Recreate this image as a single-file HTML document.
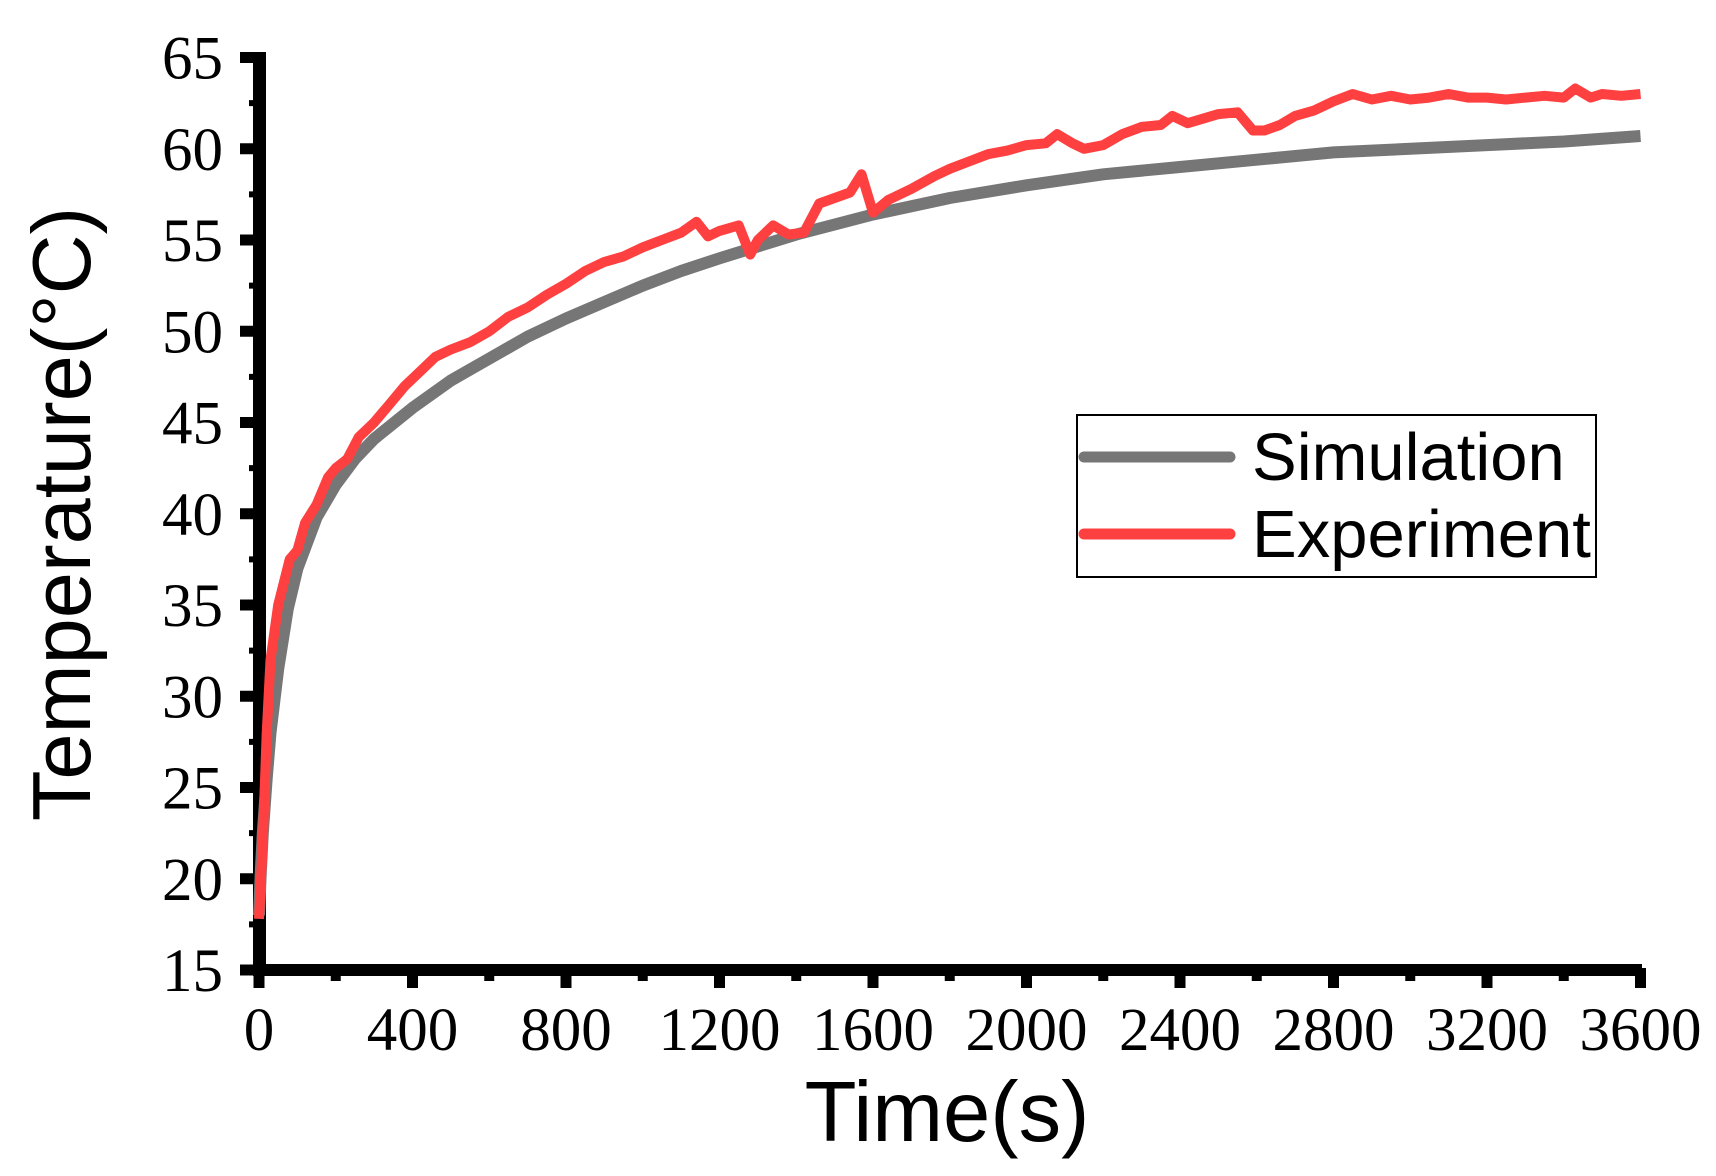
<!DOCTYPE html>
<html><head><meta charset="utf-8"><style>
html,body{margin:0;padding:0;background:#fff;}
svg{display:block;}
</style></head><body>
<svg id="chart" width="1716" height="1176" viewBox="0 0 1716 1176" xmlns="http://www.w3.org/2000/svg">
<g id="axes"></g>
<g id="series"></g>
<text x="947" y="1141" font-family="Liberation Sans, sans-serif" font-size="85" text-anchor="middle">Time(s)</text>
<text transform="translate(90,514) rotate(-90)" font-family="Liberation Sans, sans-serif" font-size="83" text-anchor="middle">Temperature(°C)</text>
<g>
<rect x="1077" y="415" width="519" height="162" fill="#fff" stroke="#000" stroke-width="2"/>
<line x1="1084" y1="457" x2="1230" y2="457" stroke="#767676" stroke-width="11" stroke-linecap="round"/>
<text x="1252" y="480" font-family="Liberation Sans, sans-serif" font-size="67">Simulation</text>
<line x1="1084" y1="534" x2="1230" y2="534" stroke="#ff4040" stroke-width="11" stroke-linecap="round"/>
<text x="1252" y="557" font-family="Liberation Sans, sans-serif" font-size="67">Experiment</text>
</g>
</svg>
<script>
const xTicks = [0,400,800,1200,1600,2000,2400,2800,3200,3600];
const yTicks = [15,20,25,30,35,40,45,50,55,60,65];
const simTime = [0,5,10,20,30,50,75,100,150,200,250,300,400,500,600,700,800,900,1000,1100,1200,1400,1600,1800,2000,2200,2400,2600,2800,3000,3200,3400,3600];
const simTemp = [18,20.5,22.5,25.5,28,31.5,34.8,37,39.8,41.6,43,44.1,45.8,47.3,48.5,49.7,50.7,51.6,52.5,53.3,54,55.3,56.4,57.3,58,58.6,59,59.4,59.8,60,60.2,60.4,60.7];
const expTime = [0,10,20,30,50,80,100,120,150,180,200,230,260,300,340,380,420,460,500,550,600,650,700,750,800,850,900,950,1000,1050,1100,1140,1170,1200,1250,1280,1300,1340,1380,1420,1460,1500,1540,1570,1600,1640,1700,1760,1800,1850,1900,1950,2000,2050,2080,2120,2150,2200,2250,2300,2350,2380,2420,2500,2550,2590,2620,2660,2700,2750,2800,2850,2900,2950,3000,3050,3100,3150,3200,3250,3300,3350,3400,3430,3470,3500,3550,3600];
const expTemp = [17.8,22,28,32,35,37.5,38,39.5,40.5,42,42.5,43,44.2,45,46,47,47.8,48.6,49,49.4,50,50.8,51.3,52,52.6,53.3,53.8,54.1,54.6,55,55.4,56,55.2,55.5,55.8,54.2,55,55.8,55.3,55.4,57,57.3,57.6,58.6,56.5,57.2,57.8,58.5,58.9,59.3,59.7,59.9,60.2,60.3,60.8,60.3,60,60.2,60.8,61.2,61.3,61.8,61.4,61.9,62,61,61,61.3,61.8,62.1,62.6,63,62.7,62.9,62.7,62.8,63,62.8,62.8,62.7,62.8,62.9,62.8,63.3,62.8,63,62.9,63];

const X0=259, X1=1640.5, Y0=970, Y1=57.5;
function xs(t){return X0 + t*(X1-X0)/3600;}
function ys(v){return Y0 - (v-15)*(Y0-Y1)/50;}
const NS='http://www.w3.org/2000/svg';
const axes=document.getElementById('axes');
const series=document.getElementById('series');
function mk(tag,attrs,parent){const e=document.createElementNS(NS,tag);for(const k in attrs)e.setAttribute(k,attrs[k]);parent.appendChild(e);return e;}

for(let v=17.5; v<65; v+=5){
  const m=mk('line',{x1:249,x2:260,y1:ys(v),y2:ys(v),stroke:'#000','stroke-width':6},axes);
  
  
}
for(let t=200; t<3600; t+=400){
  const m=mk('line',{x1:xs(t),x2:xs(t),y1:968,y2:981,stroke:'#000','stroke-width':10},axes);
  
  
}
yTicks.forEach(v=>{
  const l=mk('line',{x1:240,x2:260,y1:ys(v),y2:ys(v),stroke:'#000','stroke-width':11},axes);
  
  
  const tx=mk('text',{x:223,y:ys(v)+21,'text-anchor':'end','font-family':'Liberation Serif, serif','font-size':61},axes);
  tx.textContent=v;
  
  
});
xTicks.forEach(t=>{
  const l=mk('line',{x1:xs(t),x2:xs(t),y1:968,y2:988,stroke:'#000','stroke-width':11},axes);
  
  
  const tx=mk('text',{x:xs(t),y:1050,'text-anchor':'middle','font-family':'Liberation Serif, serif','font-size':61},axes);
  tx.textContent=t;
  
  
});
const ya=mk('line',{x1:259.5,x2:259.5,y1:52,y2:976,stroke:'#000','stroke-width':13},axes);


const xa=mk('line',{x1:253,x2:1642,y1:970,y2:970,stroke:'#000','stroke-width':12},axes);



function pts(ts,vs){return ts.map((t,i)=>xs(t).toFixed(1)+','+ys(vs[i]).toFixed(1)).join(' ');}
const sim=mk('polyline',{points:pts(simTime,simTemp),fill:'none',stroke:'#767676','stroke-width':12,'stroke-linejoin':'round'},series);


const exp=mk('polyline',{points:pts(expTime,expTemp),fill:'none',stroke:'#ff4040','stroke-width':10,'stroke-linejoin':'round'},series);


</script>
</body></html>
